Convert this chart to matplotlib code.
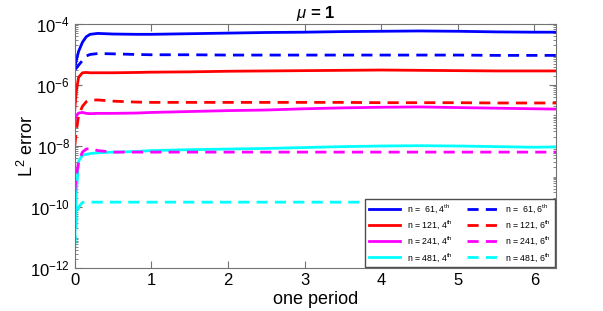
import numpy as np
import matplotlib.pyplot as plt
from matplotlib.ticker import LogLocator, NullFormatter

plt.rcParams['font.family'] = ['Liberation Sans', 'DejaVu Sans']
plt.rcParams['mathtext.fontset'] = 'custom'
plt.rcParams['mathtext.rm'] = 'Liberation Sans'
plt.rcParams['mathtext.it'] = 'Liberation Sans:italic'
plt.rcParams['mathtext.bf'] = 'Liberation Sans:bold'

# time samples (one period = 2*pi)
t = [0, 0.02, 0.05, 0.1, 0.15, 0.2, 0.3, 0.5, 0.8, 1.0, 1.5, 2.0, 2.5,
     3.0, 3.5, 4.0, 4.5, 5.0, 5.5, 6.0, 6.2832]

# log10 of the L2 error
n61_4 = [-5.44, -5.2, -4.9, -4.6, -4.42, -4.34, -4.31, -4.33, -4.34, -4.34, -4.32,
         -4.3, -4.28, -4.27, -4.25, -4.24, -4.23, -4.24, -4.26, -4.27, -4.27]
n61_6 = [-5.5, -5.45, -5.35, -5.2, -5.05, -5.0, -4.97, -4.98, -5.0, -5.01, -5.01,
         -5.02, -5.02, -5.02, -5.02, -5.02, -5.02, -5.02, -5.03, -5.03, -5.03]
n121_4 = [-6.8, -6.2, -5.75, -5.6, -5.59, -5.6, -5.6, -5.6, -5.59, -5.58, -5.57,
          -5.55, -5.54, -5.53, -5.52, -5.51, -5.52, -5.53, -5.54, -5.54, -5.54]
n121_6 = [-8.0, -7.5, -7.0, -6.7, -6.55, -6.5, -6.49, -6.53, -6.56, -6.57, -6.57,
          -6.57, -6.57, -6.57, -6.57, -6.58, -6.58, -6.58, -6.59, -6.59, -6.59]
n241_4 = [-7.2, -7.0, -6.92, -6.9, -6.93, -6.94, -6.93, -6.93, -6.92, -6.9, -6.87,
          -6.84, -6.82, -6.78, -6.75, -6.73, -6.72, -6.74, -6.76, -6.78, -6.79]
n241_6 = [-9.5, -9.0, -8.5, -8.2, -8.1, -8.08, -8.15, -8.2, -8.2, -8.2, -8.2,
          -8.2, -8.2, -8.2, -8.2, -8.2, -8.2, -8.2, -8.2, -8.2, -8.2]
n481_4 = [-11.1, -9.5, -8.5, -8.3, -8.27, -8.25, -8.22, -8.2, -8.18, -8.15, -8.12,
          -8.1, -8.08, -8.05, -8.02, -8.0, -7.99, -8.0, -8.02, -8.04, -8.03]
n481_6 = [-11.3, -10.5, -10.0, -9.85, -9.84, -9.84, -9.84, -9.84, -9.84, -9.84, -9.84,
          -9.84, -9.84, -9.84, -9.84, -9.84, -9.84, -9.84, -9.84, -9.84, -9.84]

sizes = ['61', '121', '241', '481']
colors = ['#0000ff', '#ff0000', '#ff00ff', '#00ffff']
series4 = [n61_4, n121_4, n241_4, n481_4]
series6 = [n61_6, n121_6, n241_6, n481_6]

fig = plt.figure(figsize=(6.03, 3.11), dpi=100)
ax = fig.add_axes([0.124, 0.138, 0.798, 0.785])

for n, c, s4 in zip(sizes, colors, series4):
    lab = n if len(n) == 3 else ' ' + n
    ax.semilogy(t, 10.0**np.array(s4), '-', color=c, lw=2,
                label=r'n = %s, 4$^{\rm th}$' % lab)
for n, c, s6 in zip(sizes, colors, series6):
    lab = n if len(n) == 3 else ' ' + n
    ax.semilogy(t, 10.0**np.array(s6), '--', color=c, lw=2, dashes=(4, 2.6),
                label=r'n = %s, 6$^{\rm th}$' % lab)

ax.set_xlim(0, 2*np.pi)
ax.set_ylim(1e-12, 1e-4)
ax.set_xticks(range(7))
ax.set_yticks([1e-12, 1e-10, 1e-8, 1e-6, 1e-4])
ax.yaxis.set_minor_locator(LogLocator(base=10, subs=np.arange(1, 10), numticks=30))
ax.yaxis.set_minor_formatter(NullFormatter())
ax.tick_params(which='both', direction='in', top=True, right=True,
               labelsize=12, color='0.45')
ax.tick_params(which='major', length=5)
ax.tick_params(which='minor', length=2.5)
for sp in ax.spines.values():
    sp.set_color('0.45')

ax.set_xlabel('one period', fontsize=13, labelpad=2)
ax.set_ylabel(r'L$^2$ error', fontsize=13, labelpad=-5)
ax.set_title(r'$\mu$ = 1', fontsize=12, fontweight='bold', pad=4)

ax.legend(loc='lower right', ncol=2, fontsize=6.3, handlelength=3.6,
          columnspacing=1.6, fancybox=False, edgecolor='0.3',
          borderaxespad=0.12, labelspacing=0.38, framealpha=1)

fig.savefig('out.png', dpi=100)
